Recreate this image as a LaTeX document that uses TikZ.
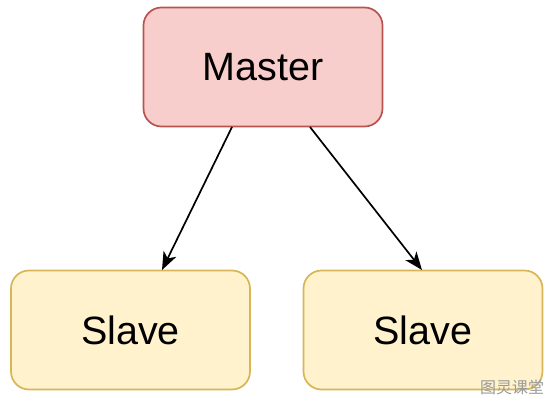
\documentclass[tikz,border=0pt]{standalone}
\usepackage{fontspec}
\setmainfont{Liberation Sans}
\newfontfamily\cjk{Noto Sans CJK SC}
\usetikzlibrary{arrows.meta}
\definecolor{mfill}{HTML}{F8CECC}
\definecolor{mdraw}{HTML}{B85450}
\definecolor{sfill}{HTML}{FFF2CC}
\definecolor{sdraw}{HTML}{D6B656}
\definecolor{wm}{HTML}{9A9A9A}
\begin{document}
\begin{tikzpicture}[x=1pt,y=-1pt,
  box/.style={rounded corners=18pt, line width=1.7pt, minimum width=239pt, minimum height=119pt, inner sep=0pt, font=\fontsize{39.5}{45}\selectfont},
  masterbox/.style={box, fill=mfill, draw=mdraw},
  slavebox/.style={box, fill=sfill, draw=sdraw},
  conn/.style={line width=1.7pt, -{Stealth[length=18pt,width=14pt,inset=5pt]}}]
\useasboundingbox (0,0) rectangle (552,404);
\node[masterbox] (m) at (263,67) {Master};
\node[slavebox] (s1) at (130.5,330) {Slave};
\node[slavebox] (s2) at (423,330) {Slave};
\coordinate (a1) at (232,127);
\coordinate (a2) at (310,127);
\coordinate (b1) at (162,270);
\coordinate (b2) at (422,270);
\draw[conn] (a1) -- (b1);
\draw[conn] (a2) -- (b2);
\node[font=\cjk\fontsize{16}{18}\selectfont, text=wm, inner sep=0pt] (w) at (512,387) {图灵课堂};
\end{tikzpicture}
\end{document}
